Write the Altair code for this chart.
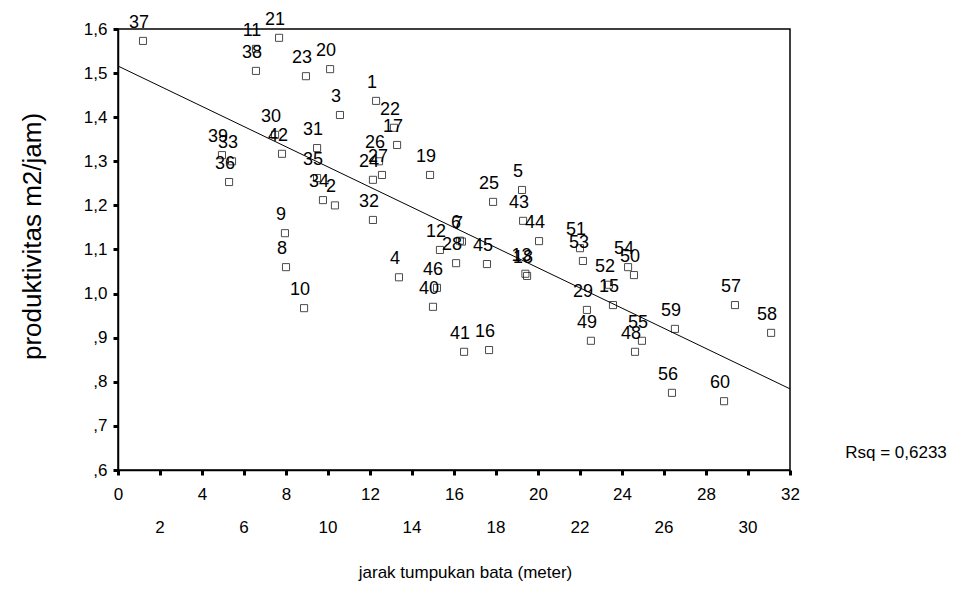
import altair as alt
import pandas as pd

# Data
ids = [37, 21, 11, 38, 23, 20, 3, 30, 42, 31, 35, 34, 2, 39, 33, 36, 9, 8, 10,
       1, 22, 17, 26, 24, 27, 19, 32, 25, 5, 43, 44, 12, 28, 6, 7, 4, 46, 40,
       45, 18, 13, 41, 16, 51, 53, 54, 50, 52, 15, 29, 49, 55, 48, 59, 56, 57, 60, 58]
xs = [1.19, 7.67, 6.57, 6.57, 8.95, 10.1, 10.57, 7.48, 7.81, 9.48, 9.48, 9.76, 10.33,
      4.95, 5.43, 5.29, 7.95, 8.0, 8.86,
      12.29, 13.14, 13.29, 12.43, 12.14, 12.57, 14.86, 12.14, 17.86, 19.24, 19.29,
      20.05, 15.33, 16.1, 16.28, 16.38, 13.38, 15.19, 15.0,
      17.57, 19.48, 19.4, 16.48, 17.67, 22.0, 22.14, 24.29, 24.57, 23.38, 23.57,
      22.33, 22.52, 24.95, 24.62, 26.52, 26.38, 29.38, 28.86, 31.1]
ys = [1.573, 1.58, 1.555, 1.505, 1.493, 1.509, 1.405, 1.36, 1.317, 1.33, 1.262, 1.212, 1.20,
      1.314, 1.30, 1.253, 1.137, 1.06, 0.967,
      1.437, 1.376, 1.337, 1.30, 1.258, 1.269, 1.269, 1.167, 1.208, 1.235, 1.165,
      1.119, 1.099, 1.069, 1.12, 1.118, 1.037, 1.013, 0.970,
      1.067, 1.04, 1.045, 0.868, 0.872, 1.103, 1.074, 1.06, 1.042, 1.02, 0.974,
      0.963, 0.893, 0.893, 0.868, 0.92, 0.775, 0.974, 0.756, 0.911]

fit_x = [0, 32]
fit_y = [1.516, 0.784]

x_ticks = list(range(0, 33, 2))
x_row1 = [0, 4, 8, 12, 16, 20, 24, 28, 32]
x_row2 = [2, 6, 10, 14, 18, 22, 26, 30]
y_ticks = [0.6, 0.7, 0.8, 0.9, 1.0, 1.1, 1.2, 1.3, 1.4, 1.5, 1.6]
rsq_text = "Rsq = 0,6233"

W, H = 672, 441
FONT = "Liberation Sans"

pts = pd.DataFrame({"id": [str(i) for i in ids], "x": xs, "y": ys})
fit = pd.DataFrame({"x": fit_x, "y": fit_y})
row2 = pd.DataFrame({"x": x_row2, "t": [str(v) for v in x_row2]})

xscale = alt.Scale(domain=[0, 32], nice=False, zero=False)
yscale = alt.Scale(domain=[0.6, 1.6], nice=False, zero=False)

xaxis = alt.Axis(
    values=x_ticks,
    labelExpr="datum.value % 4 == 0 ? format(datum.value, 'd') : ''",
    title="jarak tumpukan bata (meter)",
    titleX=347, titleY=102, titleBaseline="middle", titleAnchor="middle",
    titleFontSize=17, titleFontWeight="normal", titleFont=FONT, titleColor="black",
    labelFont=FONT, labelFontSize=17, labelColor="black", labelPadding=11,
    labelOverlap=False, labelFlush=False,
    tickSize=5, tickWidth=3, tickColor="black",
    domainColor="black", domainWidth=1.5, grid=False,
)
yaxis = alt.Axis(
    values=y_ticks,
    labelExpr="datum.value >= 0.999 ? replace(format(datum.value, '.1f'), '.', ',') : replace(format(datum.value, '.1f'), '0.', ',')",
    title="produktivitas m2/jam)",
    titleX=-86, titleY=207, titleBaseline="middle", titleAnchor="middle",
    titleFontSize=26, titleFontWeight="normal", titleFont=FONT, titleColor="black",
    labelFont=FONT, labelFontSize=17, labelColor="black", labelPadding=6,
    labelOverlap=False, labelFlush=False,
    tickSize=5, tickWidth=3, tickColor="black",
    domainColor="black", domainWidth=1.5, grid=False,
)

base = alt.Chart(pts)

points = base.mark_square(filled=False, color="black", size=50, strokeWidth=1).encode(
    x=alt.X("x:Q", scale=xscale, axis=xaxis),
    y=alt.Y("y:Q", scale=yscale, axis=yaxis),
)

labels = base.mark_text(
    font=FONT, fontSize=18, color="black", dx=-4, dy=-18, baseline="middle", align="center"
).encode(
    x=alt.X("x:Q", scale=xscale),
    y=alt.Y("y:Q", scale=yscale),
    text="id:N",
)

line = alt.Chart(fit).mark_line(color="black", strokeWidth=1).encode(
    x=alt.X("x:Q", scale=xscale),
    y=alt.Y("y:Q", scale=yscale),
)

row2_text = alt.Chart(row2).mark_text(
    font=FONT, fontSize=17, color="black", baseline="middle", align="center", clip=False
).encode(
    x=alt.X("x:Q", scale=xscale),
    y=alt.value(H + 58),
    text="t:N",
)

rsq = alt.Chart(pd.DataFrame({"t": [rsq_text]})).mark_text(
    font=FONT, fontSize=17, color="black", baseline="middle", align="center", clip=False
).encode(
    x=alt.value(W + 106),
    y=alt.value(H - 17),
    text="t:N",
)

chart = (
    alt.layer(line, points, labels, row2_text, rsq)
    .properties(
        width=W, height=H,
        autosize=alt.AutoSizeParams(type="none"),
        padding={"left": 110, "top": 21, "right": 176, "bottom": 124},
        background="white",
    )
    .configure_view(stroke="black", strokeWidth=1.5)
)

chart.save("out.html", embed_options={"renderer": "svg", "actions": False})
